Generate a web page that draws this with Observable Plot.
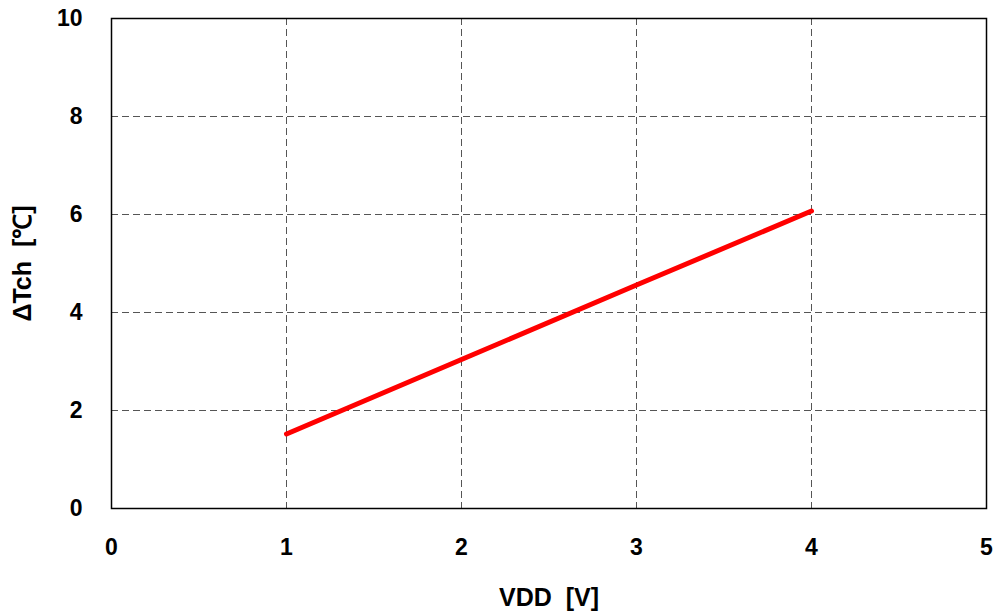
<!DOCTYPE html>
<html>
<head>
<meta charset="utf-8">
<script src="https://cdn.jsdelivr.net/npm/d3@7"></script>
<script src="https://cdn.jsdelivr.net/npm/@observablehq/plot@0.6"></script>
<style>
  html, body { margin: 0; padding: 0; background: #fff; }
  #chart svg { display: block; }
</style>
</head>
<body>
<div id="chart"></div>
<script>
const vdd = [1, 2, 3, 4];
const dTch = [1.52, 3.04, 4.56, 6.07];
const xTicks = [0, 1, 2, 3, 4, 5];
const yTicks = [0, 2, 4, 6, 8, 10];
const xLabel = "VDD\u00a0 [V]";
const yLabel = "\u0394Tch\u00a0 [\u2103]";

const data = vdd.map((v, i) => ({x: v, y: dTch[i]}));

const chart = Plot.plot({
  width: 1001,
  height: 614,
  marginLeft: 111,
  marginTop: 18,
  marginRight: 15,
  marginBottom: 106,
  style: {fontFamily: "'Liberation Sans', Arial, sans-serif", fontWeight: "bold", fontSize: "22px", color: "#000", background: "#fff"},
  x: {domain: [0, 5]},
  y: {domain: [0, 10]},
  marks: [
    Plot.gridX(xTicks.slice(1, -1), {stroke: "#555", strokeOpacity: 1, strokeWidth: 1, strokeDasharray: "7,4"}),
    Plot.gridY(yTicks.slice(1, -1), {stroke: "#555", strokeOpacity: 1, strokeWidth: 1, strokeDasharray: "7,4"}),
    Plot.frame({stroke: "#000", strokeWidth: 1.5}),
    Plot.line(data, {x: "x", y: "y", stroke: "#ff0000", strokeWidth: 5, strokeLinecap: "round"}),
    Plot.axisX(xTicks, {tickSize: 0, tickPadding: 30, fontSize: 23, fontWeight: "bold", tickFormat: "d", label: null}),
    Plot.axisY(yTicks, {tickSize: 0, tickPadding: 29, fontSize: 23, fontWeight: "bold", tickFormat: "d", label: null}),
    Plot.text([xLabel], {text: d => d, frameAnchor: "bottom", textAnchor: "middle", lineAnchor: "middle", dy: 89, fontSize: 25, fontWeight: "bold", fill: "#000"}),
    Plot.text([yLabel], {text: d => d, frameAnchor: "left", textAnchor: "middle", lineAnchor: "middle", dx: -89, rotate: -90, fontSize: 25, fontWeight: "bold", fill: "#000"})
  ]
});
document.getElementById("chart").appendChild(chart);
</script>
</body>
</html>
